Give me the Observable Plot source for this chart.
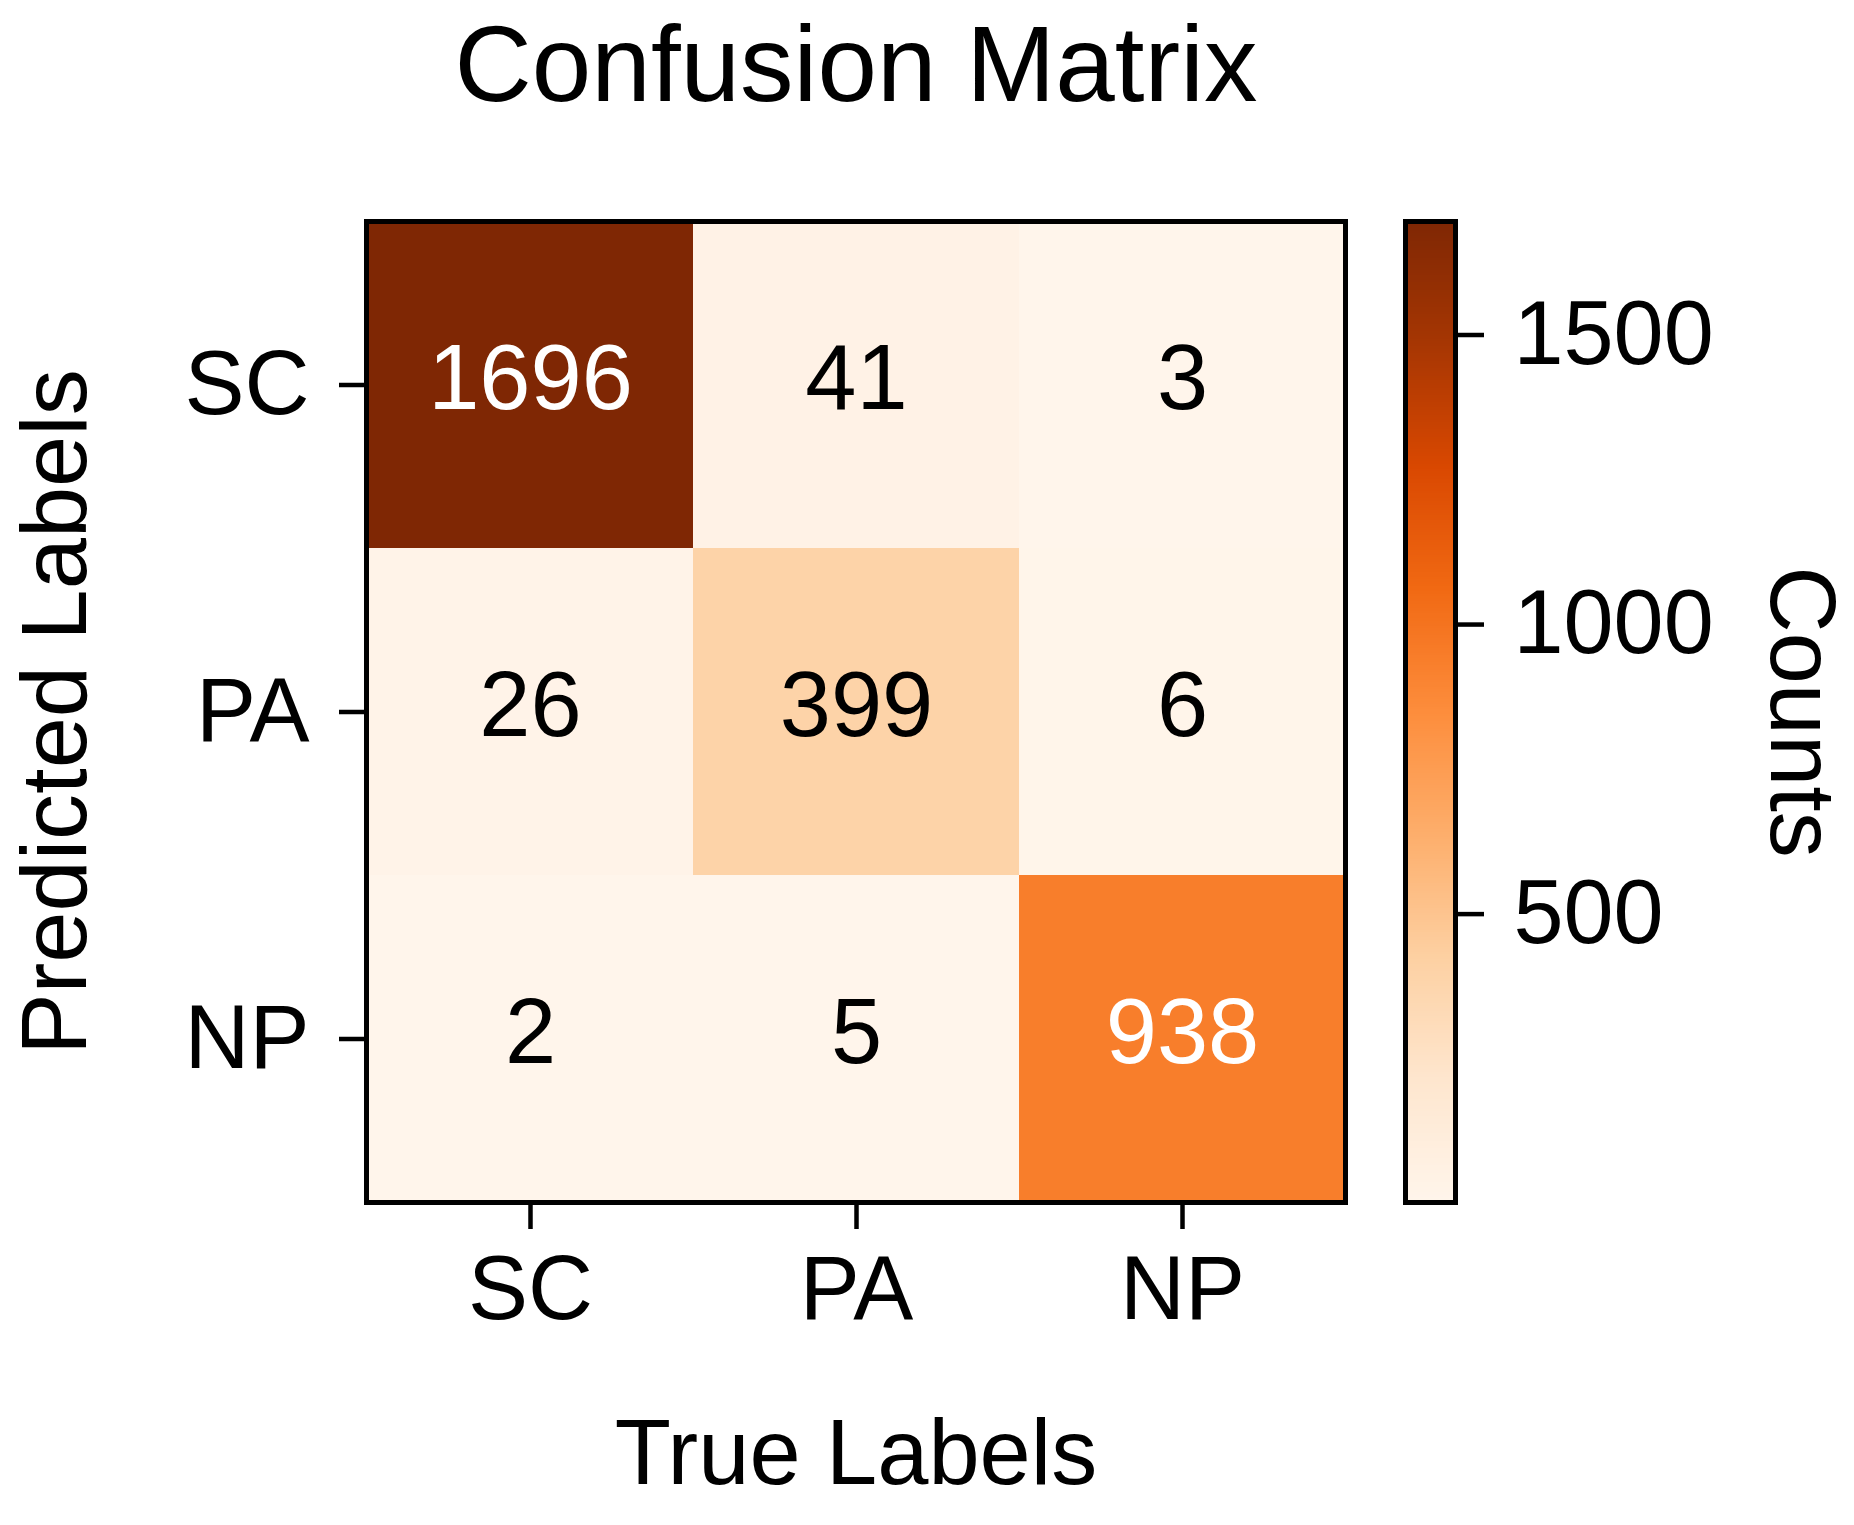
<!DOCTYPE html>
<html>
<head>
<meta charset="utf-8">
<script src="https://cdn.jsdelivr.net/npm/d3@7"></script>
<script src="https://cdn.jsdelivr.net/npm/@observablehq/plot@0.6"></script>
<style>
  html, body { margin: 0; padding: 0; background: white; }
  #chart { position: relative; width: 1854px; height: 1525px; }
  #chart svg { position: absolute; top: 0; }
</style>
</head>
<body>
<div id="chart"></div>
<script>
// ---- data ----
const labels = ["SC", "PA", "NP"];            // class names (rows: predicted, cols: true)
const rowSC = [1696, 41, 3];                  // predicted SC, by true SC/PA/NP
const rowPA = [26, 399, 6];                   // predicted PA
const rowNP = [2, 5, 938];                    // predicted NP
const colorbarTicks = [500, 1000, 1500];
const titleText = "Confusion Matrix";
const xLabel = "True Labels";
const yLabel = "Predicted Labels";
const cbLabel = "Counts";
// matplotlib "Oranges" stops (ColorBrewer 9)
const orangeStops = ["#fff5eb", "#fee6ce", "#fdd0a2", "#fdae6b", "#fd8d3c", "#f16913", "#d94801", "#a63603", "#7f2704"];

const rows = [rowSC, rowPA, rowNP];
const table = [];
rows.forEach((r, i) => r.forEach((v, j) => table.push({pred: labels[i], truth: labels[j], count: v})));
const vmin = d3.min(table, d => d.count);
const vmax = d3.max(table, d => d.count);
const thresh = (vmin + vmax) / 2;
const colorScale = {
  type: "linear",
  domain: orangeStops.map((_, i) => vmin + (vmax - vmin) * i / (orangeStops.length - 1)),
  range: orangeStops
};
const FONT = "'Liberation Sans', Arial, Helvetica, sans-serif";

// ---- main heatmap ----
const main = Plot.plot({
  width: 1380,
  height: 1525,
  marginLeft: 366,
  marginRight: 35,
  marginTop: 221,
  marginBottom: 323,
  style: {fontFamily: FONT, fontSize: "90px", color: "black", background: "white"},
  x: {type: "band", domain: labels, padding: 0, label: null},
  y: {type: "band", domain: labels, padding: 0, label: null},
  color: colorScale,
  marks: [
    Plot.cell(table, {x: "truth", y: "pred", fill: "count"}),
    Plot.text(table, {
      x: "truth", y: "pred", text: d => String(d.count),
      fill: d => d.count > thresh ? "white" : "black",
      fontSize: 92, dy: -5
    }),
    Plot.frame({stroke: "black", strokeWidth: 5}),
    Plot.axisX({anchor: "bottom", tickSize: 27, tickPadding: 26, strokeWidth: 4.5, fontSize: 90, label: null}),
    Plot.axisY({anchor: "left", tickSize: 27, tickPadding: 30, strokeWidth: 4.5, fontSize: 90, label: null}),
    Plot.text([titleText], {frameAnchor: "top", textAnchor: "middle", lineAnchor: "top", dy: -196, fontSize: 107, text: d => d}),
    Plot.text([xLabel], {frameAnchor: "bottom", textAnchor: "middle", lineAnchor: "top", dy: 216, fontSize: 92, text: d => d}),
    Plot.text([yLabel], {frameAnchor: "left", textAnchor: "middle", lineAnchor: "middle", rotate: -90, dx: -310, fontSize: 92, text: d => d})
  ]
});
main.style.left = "0px";

// ---- colorbar ----
const nBands = 400;
const step = (vmax - vmin) / nBands;
const bands = d3.range(nBands).map(i => vmin + i * step);
const cb = Plot.plot({
  width: 474,
  height: 1525,
  marginLeft: 25,
  marginRight: 399,
  marginTop: 221,
  marginBottom: 323,
  style: {fontFamily: FONT, fontSize: "90px", color: "black", background: "transparent"},
  y: {type: "linear", domain: [vmin, vmax], label: null},
  color: colorScale,
  marks: [
    Plot.rect(bands, {y1: d => d, y2: d => Math.min(vmax, d + step * 2), fill: d => d + step / 2, shapeRendering: "crispEdges"}),
    Plot.frame({stroke: "black", strokeWidth: 5}),
    Plot.axisY({anchor: "right", ticks: colorbarTicks, tickFormat: d => String(d), tickSize: 28, tickPadding: 30, strokeWidth: 4.5, fontSize: 90, label: null}),
    Plot.text([cbLabel], {frameAnchor: "right", textAnchor: "middle", lineAnchor: "middle", rotate: 90, dx: 345, fontSize: 92, text: d => d})
  ]
});
cb.style.left = "1380px";

const chart = document.getElementById("chart");
chart.appendChild(main);
chart.appendChild(cb);
</script>
</body>
</html>
